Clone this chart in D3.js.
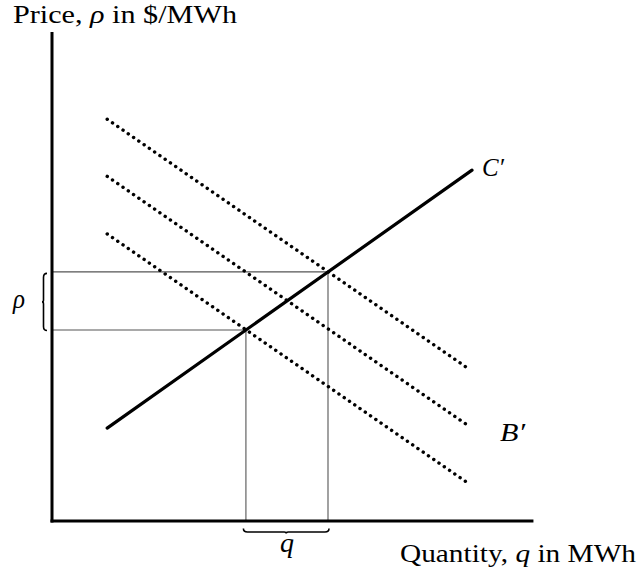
<!DOCTYPE html>
<html><head><meta charset="utf-8">
<script src="https://cdn.jsdelivr.net/npm/d3@7"></script>
<style>html,body{margin:0;padding:0;background:#fff;}svg{display:block;}</style>
</head><body>
<svg id="c" width="638" height="573"></svg>
<script>
// Data (arbitrary units)
const supplyC = [{q: 11.5, p: 19.35}, {q: 87.5, p: 73.1}];
const demandLines = [
  [{q: 11.5, p: 83.7}, {q: 86.8, p: 31.7}],
  [{q: 11.5, p: 71.8}, {q: 86.8, p: 19.8}],
  [{q: 11.5, p: 59.8}, {q: 86.8, p: 7.8}]
];
const eqLow = {q: 40.4, p: 39.8};
const eqHigh = {q: 57.5, p: 51.9};
const labels = {y: "Price, ", yVar: "ρ", yUnit: " in $/MWh", x: "Quantity, ", xVar: "q", xUnit: " in MWh", supply: "C′", demand: "B′", rho: "ρ", q: "q"};

const svg = d3.select("#c");
const x = d3.scaleLinear().domain([0, 100]).range([52, 532]);
const y = d3.scaleLinear().domain([0, 100]).range([521, 41]);
const line = d3.line().x(d => x(d.q)).y(d => y(d.p));

// guide lines
const g = svg.append("g").attr("stroke", "#555").attr("stroke-width", 1.1).attr("fill", "none");
[eqHigh, eqLow].forEach(e => {
  g.append("line").attr("x1", x(0)).attr("x2", x(e.q)).attr("y1", y(e.p)).attr("y2", y(e.p));
  g.append("line").attr("x1", x(e.q)).attr("x2", x(e.q)).attr("y1", y(e.p)).attr("y2", y(0));
});

// demand dotted lines
demandLines.forEach(d => {
  svg.append("path").attr("d", line(d)).attr("fill", "none").attr("stroke", "#000")
    .attr("stroke-width", 3.4).attr("stroke-linecap", "round").attr("stroke-dasharray", "0.1 6.3");
});

// supply line
svg.append("path").attr("d", line(supplyC)).attr("fill", "none").attr("stroke", "#000")
  .attr("stroke-width", 3.2).attr("stroke-linecap", "round");

// axes
svg.append("line").attr("x1", x(0)).attr("x2", x(0)).attr("y1", y(101.9)).attr("y2", y(0) + 1.5)
  .attr("stroke", "#000").attr("stroke-width", 3);
svg.append("line").attr("x1", x(0) - 1.5).attr("x2", x(100.3)).attr("y1", y(0)).attr("y2", y(0))
  .attr("stroke", "#000").attr("stroke-width", 3);

// braces
const bx = 43.5, y1 = y(eqHigh.p) + 1.5, y2 = y(eqLow.p) + 0.5, ym = (y1 + y2) / 2;
svg.append("path").attr("fill", "none").attr("stroke", "#000").attr("stroke-width", 1.6)
  .attr("d", `M${bx + 3.5},${y1} Q${bx},${y1} ${bx},${y1 + 4} L${bx},${ym - 2} Q${bx},${ym} ${bx - 1.5},${ym} Q${bx},${ym} ${bx},${ym + 2} L${bx},${y2 - 4} Q${bx},${y2} ${bx + 3.5},${y2}`);
const by = 532, x1 = x(eqLow.q) - 2.5, x2 = x(eqHigh.q) + 1, xm = (x1 + x2) / 2;
svg.append("path").attr("fill", "none").attr("stroke", "#000").attr("stroke-width", 1.6)
  .attr("d", `M${x1},${by - 3.5} Q${x1},${by} ${x1 + 4},${by} L${xm - 2},${by} Q${xm},${by} ${xm},${by + 1.5} Q${xm},${by} ${xm + 2},${by} L${x2 - 4},${by} Q${x2},${by} ${x2},${by - 3.5}`);

// texts
const font = "'Liberation Serif', 'DejaVu Serif', serif";
const t1 = svg.append("text").attr("x", 13).attr("y", 23).attr("font-family", font).attr("font-size", 24.5).attr("fill", "#000")
  .attr("textLength", 224).attr("lengthAdjust", "spacingAndGlyphs");
t1.append("tspan").text(labels.y);
t1.append("tspan").attr("font-style", "italic").text(labels.yVar);
t1.append("tspan").text(labels.yUnit);
const t2 = svg.append("text").attr("x", 400).attr("y", 562).attr("font-family", font).attr("font-size", 24.5).attr("fill", "#000")
  .attr("textLength", 236).attr("lengthAdjust", "spacingAndGlyphs");
t2.append("tspan").text(labels.x);
t2.append("tspan").attr("font-style", "italic").text(labels.xVar);
t2.append("tspan").text(labels.xUnit);

svg.append("text").attr("x", 13).attr("y", 308).attr("font-family", font)
  .attr("font-style", "italic").attr("font-size", 27).attr("textLength", 12).attr("lengthAdjust", "spacingAndGlyphs").text(labels.rho);
svg.append("text").attr("x", 280).attr("y", 552).attr("font-family", font)
  .attr("font-style", "italic").attr("font-size", 27).attr("textLength", 14).attr("lengthAdjust", "spacingAndGlyphs").text(labels.q);
svg.append("text").attr("x", 482).attr("y", 176).attr("font-family", font)
  .attr("font-style", "italic").attr("font-size", 25).attr("textLength", 22).attr("lengthAdjust", "spacingAndGlyphs").text(labels.supply);
svg.append("text").attr("x", 500).attr("y", 441).attr("font-family", font)
  .attr("font-style", "italic").attr("font-size", 25).attr("textLength", 25).attr("lengthAdjust", "spacingAndGlyphs").text(labels.demand);
</script>
</body></html>
